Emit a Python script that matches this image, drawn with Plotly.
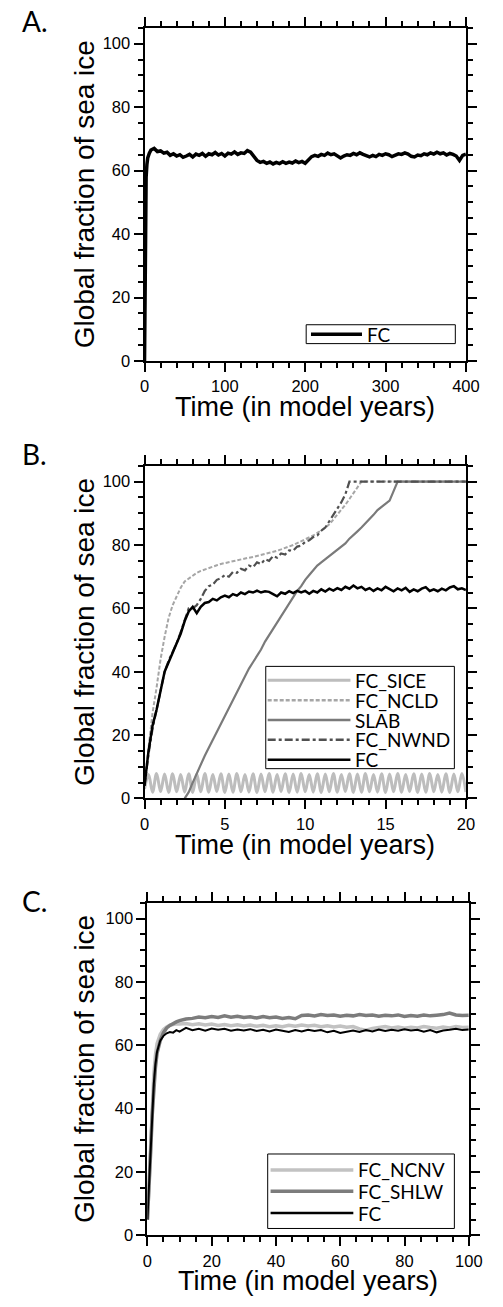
import plotly.graph_objects as go

# ---------------- DATA ----------------
# Panel A: FC over 400 model years
time_A = [0, 1, 2, 3, 4, 6, 8] + list(range(12, 401, 4))
fc_A = [0, 38, 58, 62, 64, 65.5, 66.5,
        67, 66, 66.2, 65.5, 65.8, 64.8, 65.3, 64.6, 65, 64.2, 64.6, 65.1, 64.3, 65.2, 64.8, 65.4, 64.5, 65.3, 65, 65.7, 64.9, 65.4, 64.6,
        65.5, 65.2, 65.9, 65.1, 65.6, 65.4, 66.3, 65.8, 64.6, 63.2, 62.6, 62.9, 62.3, 62.7, 62.1, 62.6, 62.2, 62.8, 62.3, 62.7, 62.4, 63, 62.5, 62.9, 62.3,
        63.4, 64.4, 64.8, 64.5, 65.1, 64.8, 65.5, 65, 65.3, 64.7, 64, 64.6, 65, 64.8, 65.4, 65, 65.6, 65.1, 64.7, 64.3, 64.8, 64.4, 65.1, 64.8, 65.3,
        65, 64.4, 64.9, 65.3, 65.1, 65.6, 65.2, 64.5, 64.3, 64.9, 64.7, 65.3, 65, 65.6, 65.2, 65.8, 65.3, 65.6, 64.9, 65.4, 65.1, 64.6, 63.2, 64.8, 65.2]

# Panel B: first 20 model years, sampled every quarter year
time_B = [i * 0.25 for i in range(81)]
sice_B = [3.0, 7.6, 2.0, 7.9, 2.2, 7.7, 1.9, 7.8, 2.1, 7.6,
          2.0, 7.8, 1.9, 7.7, 2.1, 7.9, 2.0, 7.6, 2.2, 7.8,
          1.9, 7.7, 2.0, 7.9, 2.1, 7.6, 2.0, 7.8, 1.9, 7.7,
          2.1, 7.9, 2.0, 7.6, 2.2, 7.8, 1.9, 7.7, 2.0, 7.9,
          2.1, 7.6, 2.0, 7.8, 1.9, 7.7, 2.1, 7.9, 2.0, 7.6,
          2.2, 7.8, 1.9, 7.7, 2.0, 7.9, 2.1, 7.6, 2.0, 7.8,
          1.9, 7.7, 2.1, 7.9, 2.0, 7.6, 2.2, 7.8, 1.9, 7.7,
          2.0, 7.9, 2.1, 7.6, 2.0, 7.8, 1.9, 7.7, 2.1, 7.9,
          2.0]
ncld_B = [5, 17, 27, 35, 44, 51, 57, 61,
          64, 66.5, 68.5, 69.5, 70.5, 71.2, 71.8, 72.3,
          72.7, 73.2, 73.6, 74, 74.3, 74.6, 75, 75.2,
          75.4, 75.7, 76, 76.2, 76.5, 76.8, 77.1, 77.4,
          77.8, 78.2, 78.6, 79, 79.5, 80, 80.6, 81.2,
          81.6, 82.3, 83, 83.8, 84.6, 85.5, 86.5, 88,
          89.5, 91, 92.7, 94.5, 96.3, 98.2, 100, 100,
          100, 100, 100, 100, 100, 100, 100, 100,
          100, 100, 100, 100, 100, 100, 100, 100,
          100, 100, 100, 100, 100, 100, 100, 100,
          100]
slab_B = [None, None, None, None, None, None, None, None,
          None, None, 0, 2, 5, 8, 11, 13.5,
          16, 18.5, 21, 23.5, 26, 29, 31.5, 34,
          36.5, 39, 41, 43, 45, 47, 49.5, 51.5,
          53.5, 55.5, 57.5, 59.5, 61.5, 63.5, 65.5, 67,
          69, 70.5, 72, 73.5, 74.5, 75.5, 76.5, 77.5,
          78.5, 79.5, 80.5, 82, 83, 84.3, 85.5, 86.8,
          88, 89.5, 91, 92, 93, 94, 97, 100,
          100, 100, 100, 100, 100, 100, 100, 100,
          100, 100, 100, 100, 100, 100, 100, 100,
          100]
nwnd_B = [4, 14, 22, 28, 34, 40, 43.5, 46,
          49, 52.5, 56.5, 60, 60, 61, 63, 65.5,
          67, 67.5, 69, 69.5, 70.5, 70, 71.5, 71.2,
          72.5, 72, 73.5, 73, 74.5, 74, 75.5, 75,
          76.5, 76, 77.3, 77, 78.3, 78.2, 79.5, 79.8,
          81, 81.5, 82.5, 83, 84.5, 85.5, 87.5, 89.5,
          91.5, 93.5, 96, 100, 100, 100, 100, 100,
          100, 100, 100, 100, 100, 100, 100, 100,
          100, 100, 100, 100, 100, 100, 100, 100,
          100, 100, 100, 100, 100, 100, 100, 100,
          100]
fc_B = [4, 15, 23, 28, 34, 40, 43, 46,
        49, 52, 56, 59, 60.5, 58.5, 60.5, 61.7,
        62, 63, 62.5, 63.5, 64, 63.5, 64.5, 64,
        65, 64.5, 65.3, 65, 65.6, 65, 65.4, 65.2,
        64.5, 63.8, 65, 64.6, 65.4, 64.8, 65.5, 65,
        65.5, 64.6, 65.5, 65, 66, 65.3, 66.2, 65.6,
        66.4, 65.8, 66.8, 66.2, 67.2, 66.3, 66.8, 65.8,
        66.4, 65.5, 66.3, 65.7, 66.8, 66, 65.4, 66.3,
        65.7, 66.5, 65.2, 66, 65.4, 66.2, 66.7, 65.5,
        66, 65.4, 66.2, 65.7, 66.6, 67, 66, 66.3,
        65.8]

# Panel C: first 100 model years
time_C = [0, 0.5, 1, 1.5, 2, 2.5, 3, 4, 5, 6, 7, 8, 9] + list(range(10, 101, 2))
ncnv_C = [5, 16, 29, 42, 51, 57, 60.5, 63.5, 65, 65.8, 66.4, 66.6, 66.8,
          66.7, 66.9, 66.5, 66.8, 66.4, 66.7, 66.3, 66.6, 66.2, 66.5, 66.1, 66.4, 66, 66.3, 65.9, 66.2,
          65.9, 66.3, 66, 66.4, 66.1, 66.3, 65.9, 66.2, 65.8, 66.1, 65.7, 65.9, 65.2, 64.8, 65.3, 65.6,
          65.9, 65.5, 65.8, 65.4, 65.7, 65.5, 65.9, 65.6, 65.4, 65.8, 65.5, 65.9, 65.6, 65.7]
shlw_C = [5, 14, 26, 38, 47, 53, 57.5, 61.5, 64, 65.5, 66.3, 67, 67.4,
          67.8, 68.3, 68.5, 68.9, 68.7, 69.1, 68.8, 69.3, 68.9, 69.2, 68.8, 69, 68.6, 69.1, 68.7, 68.9,
          68.5, 68.8, 68.4, 69.4, 69.6, 69.3, 69.7, 69.4, 69.6, 69.2, 69.5, 69.3, 69.7, 69.4, 69.6, 69.2,
          69.5, 69.3, 69.6, 69.1, 69.4, 69.2, 69.6, 69.3, 69.5, 69.7, 70.2, 69.6, 69.4, 69.5]
fc_C = [5, 15, 27, 39, 48, 54, 58, 61.5, 63, 63.8, 64.2, 64, 64.8,
        64.3, 65.5, 64.8, 65.2, 64.6, 65.3, 64.9, 65.2, 64.6, 65, 64.7, 65.1, 64.5, 64.9, 64.4, 65,
        64.6, 64.2, 64.8, 64.4, 64.9, 64.5, 64.8, 64.1, 64.6, 63.9, 64.3, 64.7, 64.2, 64.8, 64.4, 65,
        64.5, 64.9, 64.6, 65.1, 64.7, 64.9, 64.3, 64.8, 64.1, 64.7, 64.9, 65.2, 64.8, 65]

assert len(fc_A) == len(time_A)
for s in (sice_B, ncld_B, slab_B, nwnd_B, fc_B):
    assert len(s) == len(time_B)
for s in (ncnv_C, shlw_C, fc_C):
    assert len(s) == len(time_C)

y_title = "Global fraction of sea ice"
x_title = "Time (in model years)"
panel_labels = ["A.", "B.", "C."]

# ---------------- FIGURE ----------------
W, H = 503, 1307
def px(x):
    return x / W
def py(y):
    return 1 - y / H

fig = go.Figure()

# series definitions: (x, y, name, color, width, dash, shape)
series_A = [(time_A, fc_A, "FC", "#000000", 3.5, "solid", "linear")]
series_B = [
    (time_B, sice_B, "FC_SICE", "#bdbdbd", 3, "solid", "spline"),
    (time_B, ncld_B, "FC_NCLD", "#a6a6a6", 2, "4px,2px", "linear"),
    (time_B, slab_B, "SLAB", "#7a7a7a", 2.2, "solid", "linear"),
    (time_B, nwnd_B, "FC_NWND", "#505050", 2.2, "8px,3px,3px,3px", "linear"),
    (time_B, fc_B, "FC", "#000000", 2.5, "solid", "linear"),
]
series_C = [
    (time_C, ncnv_C, "FC_NCNV", "#c2c2c2", 3.5, "solid", "linear"),
    (time_C, shlw_C, "FC_SHLW", "#7c7c7c", 3.5, "solid", "linear"),
    (time_C, fc_C, "FC", "#000000", 2, "solid", "linear"),
]

panels = [
    dict(series=series_A, xa="x", ya="y", L=145, R=479, T=28, B=363.5, xr=[0, 400], xd=100, xm=20,
         legbox=(313, 468, 327, 346), rows=[336.5], line=(318, 371), tx=374, so=0),
    dict(series=series_B, xa="x2", ya="y2", L=145, R=479, T=469, B=804, xr=[0, 20], xd=5, xm=1,
         legbox=(271, 467, 671, 774), rows=[685, 705, 725, 745, 765], line=(273, 359), tx=362, so=1),
    dict(series=series_C, xa="x3", ya="y3", L=148, R=482, T=909, B=1244, xr=[0, 100], xd=20, xm=5,
         legbox=(273, 467, 1162, 1237), rows=[1178, 1199.5, 1221.5], line=(276, 362), tx=365, so=1),
]
xtitle_y = [410, 851, 1290]
label_y = [21, 457, 907]

shapes = []
annotations = []
axis_common = dict(showline=True, linewidth=2, linecolor="black", mirror="ticks",
                   ticks="outside", ticklen=9, tickwidth=2, tickcolor="black",
                   showgrid=False, zeroline=False,
                   tickfont=dict(family="Liberation Sans, Arial, sans-serif", size=16.5, color="black"))

for i, p in enumerate(panels):
    for (xs, ys, name, color, width, dash, shape) in p["series"]:
        fig.add_trace(go.Scatter(x=xs, y=ys, name=name, mode="lines",
                                 line=dict(color=color, width=width, dash=dash, shape=shape),
                                 xaxis=p["xa"], yaxis=p["ya"], showlegend=False,
                                 connectgaps=False))
    suffix = "" if i == 0 else str(i + 1)
    fig.layout["xaxis" + suffix] = go.layout.XAxis(
        domain=[px(p["L"]), px(p["R"])], anchor=p["ya"], range=p["xr"],
        tick0=0, dtick=p["xd"], ticklabelstandoff=p["so"],
        minor=dict(ticks="outside", ticklen=5, tickwidth=1.5, tickcolor="black", dtick=p["xm"], showgrid=False),
        **axis_common)
    fig.layout["yaxis" + suffix] = go.layout.YAxis(
        domain=[py(p["B"]), py(p["T"])], anchor=p["xa"], range=[0, 105],
        tick0=0, dtick=20,
        minor=dict(ticks="outside", ticklen=5, tickwidth=1.5, tickcolor="black", dtick=5, showgrid=False),
        **axis_common)

    # legend (drawn as box, sample lines and text, from the series definitions)
    bx0, bx1, by0, by1 = p["legbox"]
    shapes.append(dict(type="rect", xref="paper", yref="paper",
                       x0=px(bx0), x1=px(bx1), y0=py(by1), y1=py(by0),
                       line=dict(color="black", width=1), fillcolor="white", layer="above"))
    for (xs, ys, name, color, width, dash, shape), ry in zip(p["series"], p["rows"]):
        shapes.append(dict(type="line", xref="paper", yref="paper",
                           x0=px(p["line"][0]), x1=px(p["line"][1]), y0=py(ry), y1=py(ry),
                           line=dict(color=color, width=max(width, 2.5) if shape != "spline" else 3, dash=dash),
                           layer="above"))
        annotations.append(dict(text=name, xref="paper", yref="paper", x=px(p["tx"]), y=py(ry),
                                xanchor="left", yanchor="middle", showarrow=False,
                                font=dict(family="Lato, Open Sans, sans-serif", size=19, color="black")))

    # axis titles
    annotations.append(dict(text=y_title, xref="paper", yref="paper", x=px(82),
                            y=py((p["T"] + p["B"]) / 2), textangle=-90, showarrow=False,
                            xanchor="center", yanchor="middle",
                            font=dict(family="Liberation Sans, Arial, sans-serif", size=28, color="black")))
    annotations.append(dict(text=x_title, xref="paper", yref="paper", x=px((p["L"] + p["R"]) / 2),
                            y=py(xtitle_y[i]), showarrow=False, xanchor="center", yanchor="middle",
                            font=dict(family="Liberation Sans, Arial, sans-serif", size=27, color="black")))
    # panel label
    annotations.append(dict(text=panel_labels[i], xref="paper", yref="paper", x=px(16),
                            y=py(label_y[i]), showarrow=False, xanchor="left", yanchor="middle",
                            font=dict(family="Lato, Open Sans, sans-serif", size=28, color="black")))

fig.update_layout(width=W, height=H, margin=dict(l=0, r=0, t=0, b=0),
                  paper_bgcolor="white", plot_bgcolor="white",
                  showlegend=False, shapes=shapes, annotations=annotations)

fig.write_html("out.html")
